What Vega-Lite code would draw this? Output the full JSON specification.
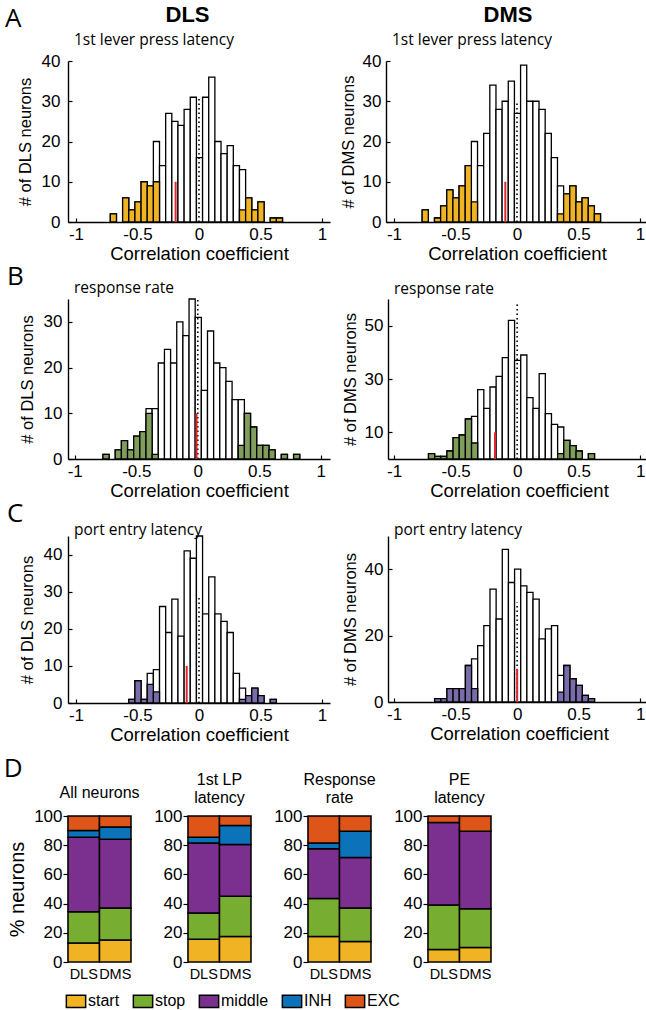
{
  "$schema": "https://vega.github.io/schema/vega-lite/v6.json",
  "padding": {"left": 3, "top": 3, "right": 0, "bottom": 0},
  "background": "white",
  "datasets": {
    "hist": [
      {"p":"AL","lo":-0.725,"hi":-0.675,"n":2,"s":2},{"p":"AL","lo":-0.625,"hi":-0.575,"n":6,"s":6},{"p":"AL","lo":-0.575,"hi":-0.525,"n":3,"s":3},{"p":"AL","lo":-0.525,"hi":-0.475,"n":5,"s":5},{"p":"AL","lo":-0.475,"hi":-0.425,"n":10,"s":10},{"p":"AL","lo":-0.425,"hi":-0.375,"n":9,"s":9},{"p":"AL","lo":-0.375,"hi":-0.325,"n":20,"s":10},{"p":"AL","lo":-0.325,"hi":-0.275,"n":14,"s":0},{"p":"AL","lo":-0.275,"hi":-0.225,"n":27,"s":0},{"p":"AL","lo":-0.225,"hi":-0.175,"n":25,"s":0},{"p":"AL","lo":-0.175,"hi":-0.125,"n":24,"s":0},{"p":"AL","lo":-0.125,"hi":-0.075,"n":28,"s":0},{"p":"AL","lo":-0.075,"hi":-0.025,"n":31,"s":0},{"p":"AL","lo":-0.025,"hi":0.025,"n":16,"s":0},{"p":"AL","lo":0.025,"hi":0.075,"n":31,"s":0},{"p":"AL","lo":0.075,"hi":0.125,"n":36,"s":0},{"p":"AL","lo":0.125,"hi":0.175,"n":20,"s":0},{"p":"AL","lo":0.175,"hi":0.225,"n":17,"s":0},{"p":"AL","lo":0.225,"hi":0.275,"n":19,"s":0},{"p":"AL","lo":0.275,"hi":0.325,"n":14,"s":0},{"p":"AL","lo":0.325,"hi":0.375,"n":13,"s":3},{"p":"AL","lo":0.375,"hi":0.425,"n":6,"s":6},{"p":"AL","lo":0.425,"hi":0.475,"n":3,"s":3},{"p":"AL","lo":0.475,"hi":0.525,"n":5,"s":5},{"p":"AL","lo":0.575,"hi":0.625,"n":1,"s":1},{"p":"AL","lo":0.625,"hi":0.675,"n":1,"s":1},
      {"p":"AM","lo":-0.775,"hi":-0.725,"n":3,"s":3},{"p":"AM","lo":-0.675,"hi":-0.625,"n":1,"s":1},{"p":"AM","lo":-0.625,"hi":-0.575,"n":4,"s":4},{"p":"AM","lo":-0.575,"hi":-0.525,"n":8,"s":8},{"p":"AM","lo":-0.525,"hi":-0.475,"n":6,"s":6},{"p":"AM","lo":-0.475,"hi":-0.425,"n":9,"s":9},{"p":"AM","lo":-0.425,"hi":-0.375,"n":14,"s":14},{"p":"AM","lo":-0.375,"hi":-0.325,"n":20,"s":5},{"p":"AM","lo":-0.325,"hi":-0.275,"n":14,"s":0},{"p":"AM","lo":-0.275,"hi":-0.225,"n":22,"s":0},{"p":"AM","lo":-0.225,"hi":-0.175,"n":34,"s":0},{"p":"AM","lo":-0.175,"hi":-0.125,"n":28,"s":0},{"p":"AM","lo":-0.125,"hi":-0.075,"n":30,"s":0},{"p":"AM","lo":-0.075,"hi":-0.025,"n":35,"s":0},{"p":"AM","lo":-0.025,"hi":0.025,"n":27,"s":0},{"p":"AM","lo":0.025,"hi":0.075,"n":39,"s":0},{"p":"AM","lo":0.075,"hi":0.125,"n":30,"s":0},{"p":"AM","lo":0.125,"hi":0.175,"n":30,"s":0},{"p":"AM","lo":0.175,"hi":0.225,"n":28,"s":0},{"p":"AM","lo":0.225,"hi":0.275,"n":22,"s":0},{"p":"AM","lo":0.275,"hi":0.325,"n":16,"s":0},{"p":"AM","lo":0.325,"hi":0.375,"n":9,"s":2},{"p":"AM","lo":0.375,"hi":0.425,"n":7,"s":7},{"p":"AM","lo":0.425,"hi":0.475,"n":9,"s":9},{"p":"AM","lo":0.475,"hi":0.525,"n":5,"s":5},{"p":"AM","lo":0.525,"hi":0.575,"n":6,"s":6},{"p":"AM","lo":0.575,"hi":0.625,"n":4,"s":4},{"p":"AM","lo":0.625,"hi":0.675,"n":2,"s":2},
      {"p":"BL","lo":-0.775,"hi":-0.725,"n":1,"s":1},{"p":"BL","lo":-0.675,"hi":-0.625,"n":2,"s":2},{"p":"BL","lo":-0.625,"hi":-0.575,"n":4,"s":4},{"p":"BL","lo":-0.575,"hi":-0.525,"n":2,"s":2},{"p":"BL","lo":-0.525,"hi":-0.475,"n":5,"s":5},{"p":"BL","lo":-0.475,"hi":-0.425,"n":6,"s":6},{"p":"BL","lo":-0.425,"hi":-0.375,"n":11,"s":10},{"p":"BL","lo":-0.375,"hi":-0.325,"n":11,"s":1},{"p":"BL","lo":-0.325,"hi":-0.275,"n":21,"s":0},{"p":"BL","lo":-0.275,"hi":-0.225,"n":24,"s":0},{"p":"BL","lo":-0.225,"hi":-0.175,"n":21,"s":0},{"p":"BL","lo":-0.175,"hi":-0.125,"n":30,"s":0},{"p":"BL","lo":-0.125,"hi":-0.075,"n":27,"s":0},{"p":"BL","lo":-0.075,"hi":-0.025,"n":35,"s":0},{"p":"BL","lo":-0.025,"hi":0.025,"n":31,"s":0},{"p":"BL","lo":0.025,"hi":0.075,"n":15,"s":0},{"p":"BL","lo":0.075,"hi":0.125,"n":28,"s":0},{"p":"BL","lo":0.125,"hi":0.175,"n":21,"s":0},{"p":"BL","lo":0.175,"hi":0.225,"n":20,"s":0},{"p":"BL","lo":0.225,"hi":0.275,"n":17,"s":0},{"p":"BL","lo":0.275,"hi":0.325,"n":13,"s":0},{"p":"BL","lo":0.325,"hi":0.375,"n":13,"s":3},{"p":"BL","lo":0.375,"hi":0.425,"n":10,"s":10},{"p":"BL","lo":0.425,"hi":0.475,"n":7,"s":7},{"p":"BL","lo":0.475,"hi":0.525,"n":3,"s":3},{"p":"BL","lo":0.525,"hi":0.575,"n":3,"s":3},{"p":"BL","lo":0.575,"hi":0.625,"n":2,"s":2},{"p":"BL","lo":0.675,"hi":0.725,"n":1,"s":1},{"p":"BL","lo":0.775,"hi":0.825,"n":1,"s":1},
      {"p":"BM","lo":-0.725,"hi":-0.675,"n":2,"s":2},{"p":"BM","lo":-0.675,"hi":-0.625,"n":1,"s":1},{"p":"BM","lo":-0.625,"hi":-0.575,"n":1,"s":1},{"p":"BM","lo":-0.575,"hi":-0.525,"n":3,"s":3},{"p":"BM","lo":-0.525,"hi":-0.475,"n":8,"s":8},{"p":"BM","lo":-0.475,"hi":-0.425,"n":9,"s":9},{"p":"BM","lo":-0.425,"hi":-0.375,"n":15,"s":15},{"p":"BM","lo":-0.375,"hi":-0.325,"n":16,"s":6},{"p":"BM","lo":-0.325,"hi":-0.275,"n":26,"s":0},{"p":"BM","lo":-0.275,"hi":-0.225,"n":19,"s":0},{"p":"BM","lo":-0.225,"hi":-0.175,"n":27,"s":0},{"p":"BM","lo":-0.175,"hi":-0.125,"n":31,"s":0},{"p":"BM","lo":-0.125,"hi":-0.075,"n":38,"s":0},{"p":"BM","lo":-0.075,"hi":-0.025,"n":52,"s":0},{"p":"BM","lo":-0.025,"hi":0.025,"n":37,"s":0},{"p":"BM","lo":0.025,"hi":0.075,"n":39,"s":0},{"p":"BM","lo":0.075,"hi":0.125,"n":23,"s":0},{"p":"BM","lo":0.125,"hi":0.175,"n":19,"s":0},{"p":"BM","lo":0.175,"hi":0.225,"n":32,"s":0},{"p":"BM","lo":0.225,"hi":0.275,"n":17,"s":0},{"p":"BM","lo":0.275,"hi":0.325,"n":13,"s":0},{"p":"BM","lo":0.325,"hi":0.375,"n":12,"s":2},{"p":"BM","lo":0.375,"hi":0.425,"n":7,"s":7},{"p":"BM","lo":0.425,"hi":0.475,"n":5,"s":5},{"p":"BM","lo":0.475,"hi":0.525,"n":3,"s":3},{"p":"BM","lo":0.575,"hi":0.625,"n":2,"s":2},
      {"p":"CL","lo":-0.575,"hi":-0.525,"n":1,"s":1},{"p":"CL","lo":-0.525,"hi":-0.475,"n":6,"s":6},{"p":"CL","lo":-0.475,"hi":-0.425,"n":1,"s":1},{"p":"CL","lo":-0.425,"hi":-0.375,"n":8,"s":5},{"p":"CL","lo":-0.375,"hi":-0.325,"n":9,"s":3},{"p":"CL","lo":-0.325,"hi":-0.275,"n":26,"s":0},{"p":"CL","lo":-0.275,"hi":-0.225,"n":19,"s":0},{"p":"CL","lo":-0.225,"hi":-0.175,"n":28,"s":0},{"p":"CL","lo":-0.175,"hi":-0.125,"n":18,"s":0},{"p":"CL","lo":-0.125,"hi":-0.075,"n":41,"s":0},{"p":"CL","lo":-0.075,"hi":-0.025,"n":39,"s":0},{"p":"CL","lo":-0.025,"hi":0.025,"n":45,"s":0},{"p":"CL","lo":0.025,"hi":0.075,"n":24,"s":0},{"p":"CL","lo":0.075,"hi":0.125,"n":34,"s":0},{"p":"CL","lo":0.125,"hi":0.175,"n":24,"s":0},{"p":"CL","lo":0.175,"hi":0.225,"n":22,"s":0},{"p":"CL","lo":0.225,"hi":0.275,"n":19,"s":0},{"p":"CL","lo":0.275,"hi":0.325,"n":8,"s":0},{"p":"CL","lo":0.325,"hi":0.375,"n":4,"s":1},{"p":"CL","lo":0.375,"hi":0.425,"n":2,"s":2},{"p":"CL","lo":0.425,"hi":0.475,"n":4,"s":4},{"p":"CL","lo":0.475,"hi":0.525,"n":2,"s":2},{"p":"CL","lo":0.575,"hi":0.625,"n":1,"s":1},
      {"p":"CM","lo":-0.675,"hi":-0.625,"n":1,"s":1},{"p":"CM","lo":-0.625,"hi":-0.575,"n":1,"s":1},{"p":"CM","lo":-0.575,"hi":-0.525,"n":4,"s":4},{"p":"CM","lo":-0.525,"hi":-0.475,"n":4,"s":4},{"p":"CM","lo":-0.475,"hi":-0.425,"n":4,"s":4},{"p":"CM","lo":-0.425,"hi":-0.375,"n":11,"s":11},{"p":"CM","lo":-0.375,"hi":-0.325,"n":13,"s":4},{"p":"CM","lo":-0.325,"hi":-0.275,"n":17,"s":0},{"p":"CM","lo":-0.275,"hi":-0.225,"n":23,"s":0},{"p":"CM","lo":-0.225,"hi":-0.175,"n":34,"s":0},{"p":"CM","lo":-0.175,"hi":-0.125,"n":25,"s":0},{"p":"CM","lo":-0.125,"hi":-0.075,"n":46,"s":0},{"p":"CM","lo":-0.075,"hi":-0.025,"n":36,"s":0},{"p":"CM","lo":-0.025,"hi":0.025,"n":40,"s":0},{"p":"CM","lo":0.025,"hi":0.075,"n":35,"s":0},{"p":"CM","lo":0.075,"hi":0.125,"n":33,"s":0},{"p":"CM","lo":0.125,"hi":0.175,"n":31,"s":0},{"p":"CM","lo":0.175,"hi":0.225,"n":19,"s":0},{"p":"CM","lo":0.225,"hi":0.275,"n":22,"s":0},{"p":"CM","lo":0.275,"hi":0.325,"n":23,"s":0},{"p":"CM","lo":0.325,"hi":0.375,"n":8,"s":3},{"p":"CM","lo":0.375,"hi":0.425,"n":11,"s":11},{"p":"CM","lo":0.425,"hi":0.475,"n":7,"s":7},{"p":"CM","lo":0.475,"hi":0.525,"n":5,"s":5},{"p":"CM","lo":0.525,"hi":0.575,"n":2,"s":2},{"p":"CM","lo":0.575,"hi":0.625,"n":1,"s":1}
    ],
    "refs": [
      {"p":"AL","med":-0.19,"mh":10,"zt":31,"z":0},
      {"p":"AM","med":-0.095,"mh":10,"zt":30,"z":0},
      {"p":"BL","med":-0.01,"mh":10,"zt":35,"z":0},
      {"p":"BM","med":-0.18,"mh":10,"zt":59,"z":0},
      {"p":"CL","med":-0.10,"mh":10,"zt":29,"z":0},
      {"p":"CM","med":0.0,"mh":10,"zt":30,"z":0}
    ],
    "stack": [
      {"g":"All","region":"DLS","type":"start","pct":13},{"g":"All","region":"DLS","type":"stop","pct":21.5},{"g":"All","region":"DLS","type":"middle","pct":51},{"g":"All","region":"DLS","type":"INH","pct":4.5},{"g":"All","region":"DLS","type":"EXC","pct":10},
      {"g":"All","region":"DMS","type":"start","pct":15},{"g":"All","region":"DMS","type":"stop","pct":22},{"g":"All","region":"DMS","type":"middle","pct":47},{"g":"All","region":"DMS","type":"INH","pct":8.5},{"g":"All","region":"DMS","type":"EXC","pct":7.5},
      {"g":"LP","region":"DLS","type":"start","pct":15.5},{"g":"LP","region":"DLS","type":"stop","pct":18},{"g":"LP","region":"DLS","type":"middle","pct":48},{"g":"LP","region":"DLS","type":"INH","pct":4},{"g":"LP","region":"DLS","type":"EXC","pct":14.5},
      {"g":"LP","region":"DMS","type":"start","pct":17.5},{"g":"LP","region":"DMS","type":"stop","pct":27.5},{"g":"LP","region":"DMS","type":"middle","pct":35.5},{"g":"LP","region":"DMS","type":"INH","pct":13},{"g":"LP","region":"DMS","type":"EXC","pct":6.5},
      {"g":"RR","region":"DLS","type":"start","pct":17.5},{"g":"RR","region":"DLS","type":"stop","pct":26},{"g":"RR","region":"DLS","type":"middle","pct":34},{"g":"RR","region":"DLS","type":"INH","pct":4},{"g":"RR","region":"DLS","type":"EXC","pct":18.5},
      {"g":"RR","region":"DMS","type":"start","pct":14},{"g":"RR","region":"DMS","type":"stop","pct":23},{"g":"RR","region":"DMS","type":"middle","pct":34.5},{"g":"RR","region":"DMS","type":"INH","pct":18},{"g":"RR","region":"DMS","type":"EXC","pct":10.5},
      {"g":"PE","region":"DLS","type":"start","pct":8.5},{"g":"PE","region":"DLS","type":"stop","pct":30.5},{"g":"PE","region":"DLS","type":"middle","pct":56.5},{"g":"PE","region":"DLS","type":"EXC","pct":4.5},
      {"g":"PE","region":"DMS","type":"start","pct":10},{"g":"PE","region":"DMS","type":"stop","pct":26.5},{"g":"PE","region":"DMS","type":"middle","pct":53},{"g":"PE","region":"DMS","type":"EXC","pct":10.5}
    ]
  },
  "vconcat": [
    {
      "spacing": 0,
      "vconcat": [
        {
          "title": {"text": "A", "anchor": "start", "frame": "bounds", "font": "Open Sans", "fontSize": 26, "fontWeight": "normal", "offset": -28, "dx": -12},
          "spacing": 10,
          "hconcat": [
            {
              "title": {"text": "DLS", "anchor": "middle", "fontSize": 22, "fontWeight": "bold", "offset": 6, "dx": 14},
              "vconcat": [
                {
                  "width": 262, "height": 161,
                  "title": {"text": "1st lever press latency", "anchor": "start", "frame": "group", "font": "Open Sans", "fontSize": 15.5, "fontWeight": "normal", "dx": 6, "offset": 4},
                  "layer": [
                    {"data": {"name": "hist"}, "transform": [{"filter": "datum.p=='AL'"}],
                     "mark": {"type": "bar", "fill": "white", "stroke": "black", "strokeWidth": 1.3, "binSpacing": 0},
                     "encoding": {
                       "x": {"field": "lo", "type": "quantitative", "bin": "binned", "scale": {"domain": [-1.065, 1.065], "nice": false, "zero": false},
                             "axis": {"values": [-1, -0.5, 0, 0.5, 1], "labelExpr": "''+datum.value", "title": "Correlation coefficient", "titleFontSize": 18.5, "labelFontSize": 17, "tickSize": -4, "labelPadding": 8, "titlePadding": 2, "labelFlush": false}},
                       "x2": {"field": "hi"},
                       "y": {"field": "n", "type": "quantitative", "scale": {"domain": [0, 40], "nice": false},
                             "axis": {"values": [0, 10, 20, 30, 40], "title": "# of DLS neurons", "titleFontSize": 16.5, "labelFontSize": 17, "tickSize": -4, "labelPadding": 12, "titlePadding": 8}}}},
                    {"data": {"name": "hist"}, "transform": [{"filter": "datum.p=='AL' && datum.s>0"}],
                     "mark": {"type": "bar", "fill": "#F0B323", "stroke": "black", "strokeWidth": 1.3, "binSpacing": 0},
                     "encoding": {"x": {"field": "lo", "type": "quantitative", "bin": "binned"}, "x2": {"field": "hi"}, "y": {"field": "s", "type": "quantitative"}}},
                    {"data": {"name": "refs"}, "transform": [{"filter": "datum.p=='AL'"}],
                     "mark": {"type": "rule", "stroke": "black", "strokeWidth": 1.6, "strokeDash": [1.5, 3]},
                     "encoding": {"x": {"field": "z", "type": "quantitative"}, "y": {"field": "z", "type": "quantitative"}, "y2": {"field": "zt"}}},
                    {"data": {"name": "refs"}, "transform": [{"filter": "datum.p=='AL'"}],
                     "mark": {"type": "rule", "stroke": "#E3242B", "strokeWidth": 2},
                     "encoding": {"x": {"field": "med", "type": "quantitative"}, "y": {"field": "z", "type": "quantitative"}, "y2": {"field": "mh"}}}
                  ]
                }
              ]
            },
            {
              "title": {"text": "DMS", "anchor": "middle", "fontSize": 22, "fontWeight": "bold", "offset": 6, "dx": 14},
              "vconcat": [
                {
                  "width": 262, "height": 161,
                  "title": {"text": "1st lever press latency", "anchor": "start", "frame": "group", "font": "Open Sans", "fontSize": 15.5, "fontWeight": "normal", "dx": 6, "offset": 4},
                  "layer": [
                    {"data": {"name": "hist"}, "transform": [{"filter": "datum.p=='AM'"}],
                     "mark": {"type": "bar", "fill": "white", "stroke": "black", "strokeWidth": 1.3, "binSpacing": 0},
                     "encoding": {
                       "x": {"field": "lo", "type": "quantitative", "bin": "binned", "scale": {"domain": [-1.065, 1.065], "nice": false, "zero": false},
                             "axis": {"values": [-1, -0.5, 0, 0.5, 1], "labelExpr": "''+datum.value", "title": "Correlation coefficient", "titleFontSize": 18.5, "labelFontSize": 17, "tickSize": -4, "labelPadding": 8, "titlePadding": 2, "labelFlush": false}},
                       "x2": {"field": "hi"},
                       "y": {"field": "n", "type": "quantitative", "scale": {"domain": [0, 40], "nice": false},
                             "axis": {"values": [0, 10, 20, 30, 40], "title": "# of DMS neurons", "titleFontSize": 16.5, "labelFontSize": 17, "tickSize": -4, "labelPadding": 9, "titlePadding": 6}}}},
                    {"data": {"name": "hist"}, "transform": [{"filter": "datum.p=='AM' && datum.s>0"}],
                     "mark": {"type": "bar", "fill": "#F0B323", "stroke": "black", "strokeWidth": 1.3, "binSpacing": 0},
                     "encoding": {"x": {"field": "lo", "type": "quantitative", "bin": "binned"}, "x2": {"field": "hi"}, "y": {"field": "s", "type": "quantitative"}}},
                    {"data": {"name": "refs"}, "transform": [{"filter": "datum.p=='AM'"}],
                     "mark": {"type": "rule", "stroke": "black", "strokeWidth": 1.6, "strokeDash": [1.5, 3]},
                     "encoding": {"x": {"field": "z", "type": "quantitative"}, "y": {"field": "z", "type": "quantitative"}, "y2": {"field": "zt"}}},
                    {"data": {"name": "refs"}, "transform": [{"filter": "datum.p=='AM'"}],
                     "mark": {"type": "rule", "stroke": "#E3242B", "strokeWidth": 2},
                     "encoding": {"x": {"field": "med", "type": "quantitative"}, "y": {"field": "z", "type": "quantitative"}, "y2": {"field": "mh"}}}
                  ]
                }
              ]
            }
          ]
        },
        {
          "title": {"text": "B", "anchor": "start", "frame": "bounds", "font": "Open Sans", "fontSize": 26, "fontWeight": "normal", "offset": -9, "dx": -12},
          "spacing": 58, "bounds": "flush",
          "hconcat": [
            {
              "width": 262, "height": 160,
              "title": {"text": "response rate", "anchor": "start", "frame": "group", "font": "Open Sans", "fontSize": 15.5, "fontWeight": "normal", "dx": 6, "offset": 2},
              "layer": [
                {"data": {"name": "hist"}, "transform": [{"filter": "datum.p=='BL'"}],
                 "mark": {"type": "bar", "fill": "white", "stroke": "black", "strokeWidth": 1.3, "binSpacing": 0},
                 "encoding": {
                   "x": {"field": "lo", "type": "quantitative", "bin": "binned", "scale": {"domain": [-1.055, 1.075], "nice": false, "zero": false},
                         "axis": {"values": [-1, -0.5, 0, 0.5, 1], "labelExpr": "''+datum.value", "title": "Correlation coefficient", "titleFontSize": 18.5, "labelFontSize": 17, "tickSize": -4, "labelPadding": 8, "titlePadding": 2, "labelFlush": false}},
                   "x2": {"field": "hi"},
                   "y": {"field": "n", "type": "quantitative", "scale": {"domain": [0, 35], "nice": false},
                         "axis": {"values": [0, 5, 10, 15, 20, 25, 30, 35], "title": "# of DLS neurons", "titleFontSize": 16.5, "labelFontSize": 17, "tickSize": -4, "labelPadding": 10, "titlePadding": 8}}}},
                {"data": {"name": "hist"}, "transform": [{"filter": "datum.p=='BL' && datum.s>0"}],
                 "mark": {"type": "bar", "fill": "#7F9E5C", "stroke": "black", "strokeWidth": 1.3, "binSpacing": 0},
                 "encoding": {"x": {"field": "lo", "type": "quantitative", "bin": "binned"}, "x2": {"field": "hi"}, "y": {"field": "s", "type": "quantitative"}}},
                {"data": {"name": "refs"}, "transform": [{"filter": "datum.p=='BL'"}],
                 "mark": {"type": "rule", "stroke": "black", "strokeWidth": 1.6, "strokeDash": [1.5, 3]},
                 "encoding": {"x": {"field": "z", "type": "quantitative"}, "y": {"field": "z", "type": "quantitative"}, "y2": {"field": "zt"}}},
                {"data": {"name": "refs"}, "transform": [{"filter": "datum.p=='BL'"}],
                 "mark": {"type": "rule", "stroke": "#E3242B", "strokeWidth": 2},
                 "encoding": {"x": {"field": "med", "type": "quantitative"}, "y": {"field": "z", "type": "quantitative"}, "y2": {"field": "mh"}}}
              ]
            },
            {
              "width": 262, "height": 160,
              "title": {"text": "response rate", "anchor": "start", "frame": "group", "font": "Open Sans", "fontSize": 15.5, "fontWeight": "normal", "dx": 6, "offset": 2},
              "layer": [
                {"data": {"name": "hist"}, "transform": [{"filter": "datum.p=='BM'"}],
                 "mark": {"type": "bar", "fill": "white", "stroke": "black", "strokeWidth": 1.3, "binSpacing": 0},
                 "encoding": {
                   "x": {"field": "lo", "type": "quantitative", "bin": "binned", "scale": {"domain": [-1.05, 1.08], "nice": false, "zero": false},
                         "axis": {"values": [-1, -0.5, 0, 0.5, 1], "labelExpr": "''+datum.value", "title": "Correlation coefficient", "titleFontSize": 18.5, "labelFontSize": 17, "tickSize": -4, "labelPadding": 8, "titlePadding": 2, "labelFlush": false}},
                   "x2": {"field": "hi"},
                   "y": {"field": "n", "type": "quantitative", "scale": {"domain": [0, 60], "nice": false},
                         "axis": {"values": [10, 20, 30, 40, 50, 60], "title": "# of DMS neurons", "titleFontSize": 16.5, "labelFontSize": 17, "tickSize": -4, "labelPadding": 9, "titlePadding": 6}}}},
                {"data": {"name": "hist"}, "transform": [{"filter": "datum.p=='BM' && datum.s>0"}],
                 "mark": {"type": "bar", "fill": "#7F9E5C", "stroke": "black", "strokeWidth": 1.3, "binSpacing": 0},
                 "encoding": {"x": {"field": "lo", "type": "quantitative", "bin": "binned"}, "x2": {"field": "hi"}, "y": {"field": "s", "type": "quantitative"}}},
                {"data": {"name": "refs"}, "transform": [{"filter": "datum.p=='BM'"}],
                 "mark": {"type": "rule", "stroke": "black", "strokeWidth": 1.6, "strokeDash": [1.5, 3]},
                 "encoding": {"x": {"field": "z", "type": "quantitative"}, "y": {"field": "z", "type": "quantitative"}, "y2": {"field": "zt"}}},
                {"data": {"name": "refs"}, "transform": [{"filter": "datum.p=='BM'"}],
                 "mark": {"type": "rule", "stroke": "#E3242B", "strokeWidth": 2},
                 "encoding": {"x": {"field": "med", "type": "quantitative"}, "y": {"field": "z", "type": "quantitative"}, "y2": {"field": "mh"}}}
              ]
            }
          ]
        },
        {
          "title": {"text": "C", "anchor": "start", "frame": "bounds", "font": "Open Sans", "fontSize": 26, "fontWeight": "normal", "offset": -4, "dx": -12},
          "spacing": 58, "bounds": "flush",
          "hconcat": [
            {
              "width": 262, "height": 167,
              "title": {"text": "port entry latency", "anchor": "start", "frame": "group", "font": "Open Sans", "fontSize": 15.5, "fontWeight": "normal", "dx": 6, "offset": -3},
              "layer": [
                {"data": {"name": "hist"}, "transform": [{"filter": "datum.p=='CL'"}],
                 "mark": {"type": "bar", "fill": "white", "stroke": "black", "strokeWidth": 1.3, "binSpacing": 0},
                 "encoding": {
                   "x": {"field": "lo", "type": "quantitative", "bin": "binned", "scale": {"domain": [-1.065, 1.065], "nice": false, "zero": false},
                         "axis": {"values": [-1, -0.5, 0, 0.5, 1], "labelExpr": "''+datum.value", "title": "Correlation coefficient", "titleFontSize": 18.5, "labelFontSize": 17, "tickSize": -4, "labelPadding": 8, "titlePadding": 2, "labelFlush": false}},
                   "x2": {"field": "hi"},
                   "y": {"field": "n", "type": "quantitative", "scale": {"domain": [0, 45], "nice": false},
                         "axis": {"values": [0, 10, 20, 30, 40], "title": "# of DLS neurons", "titleFontSize": 16.5, "labelFontSize": 17, "tickSize": -4, "labelPadding": 10, "titlePadding": 8}}}},
                {"data": {"name": "hist"}, "transform": [{"filter": "datum.p=='CL' && datum.s>0"}],
                 "mark": {"type": "bar", "fill": "#7A6BAA", "stroke": "black", "strokeWidth": 1.3, "binSpacing": 0},
                 "encoding": {"x": {"field": "lo", "type": "quantitative", "bin": "binned"}, "x2": {"field": "hi"}, "y": {"field": "s", "type": "quantitative"}}},
                {"data": {"name": "refs"}, "transform": [{"filter": "datum.p=='CL'"}],
                 "mark": {"type": "rule", "stroke": "black", "strokeWidth": 1.6, "strokeDash": [1.5, 3]},
                 "encoding": {"x": {"field": "z", "type": "quantitative"}, "y": {"field": "z", "type": "quantitative"}, "y2": {"field": "zt"}}},
                {"data": {"name": "refs"}, "transform": [{"filter": "datum.p=='CL'"}],
                 "mark": {"type": "rule", "stroke": "#E3242B", "strokeWidth": 2},
                 "encoding": {"x": {"field": "med", "type": "quantitative"}, "y": {"field": "z", "type": "quantitative"}, "y2": {"field": "mh"}}}
              ]
            },
            {
              "width": 262, "height": 166,
              "title": {"text": "port entry latency", "anchor": "start", "frame": "group", "font": "Open Sans", "fontSize": 15.5, "fontWeight": "normal", "dx": 6, "offset": -2},
              "layer": [
                {"data": {"name": "hist"}, "transform": [{"filter": "datum.p=='CM'"}],
                 "mark": {"type": "bar", "fill": "white", "stroke": "black", "strokeWidth": 1.3, "binSpacing": 0},
                 "encoding": {
                   "x": {"field": "lo", "type": "quantitative", "bin": "binned", "scale": {"domain": [-1.05, 1.08], "nice": false, "zero": false},
                         "axis": {"values": [-1, -0.5, 0, 0.5, 1], "labelExpr": "''+datum.value", "title": "Correlation coefficient", "titleFontSize": 18.5, "labelFontSize": 17, "tickSize": -4, "labelPadding": 8, "titlePadding": 2, "labelFlush": false}},
                   "x2": {"field": "hi"},
                   "y": {"field": "n", "type": "quantitative", "scale": {"domain": [0, 50], "nice": false},
                         "axis": {"values": [0, 10, 20, 30, 40, 50], "title": "# of DMS neurons", "titleFontSize": 16.5, "labelFontSize": 17, "tickSize": -4, "labelPadding": 9, "titlePadding": 6}}}},
                {"data": {"name": "hist"}, "transform": [{"filter": "datum.p=='CM' && datum.s>0"}],
                 "mark": {"type": "bar", "fill": "#7A6BAA", "stroke": "black", "strokeWidth": 1.3, "binSpacing": 0},
                 "encoding": {"x": {"field": "lo", "type": "quantitative", "bin": "binned"}, "x2": {"field": "hi"}, "y": {"field": "s", "type": "quantitative"}}},
                {"data": {"name": "refs"}, "transform": [{"filter": "datum.p=='CM'"}],
                 "mark": {"type": "rule", "stroke": "black", "strokeWidth": 1.6, "strokeDash": [1.5, 3]},
                 "encoding": {"x": {"field": "z", "type": "quantitative"}, "y": {"field": "z", "type": "quantitative"}, "y2": {"field": "zt"}}},
                {"data": {"name": "refs"}, "transform": [{"filter": "datum.p=='CM'"}],
                 "mark": {"type": "rule", "stroke": "#E3242B", "strokeWidth": 2},
                 "encoding": {"x": {"field": "med", "type": "quantitative"}, "y": {"field": "z", "type": "quantitative"}, "y2": {"field": "mh"}}}
              ]
            }
          ]
        }
      ]
    },
    {
      "title": {"text": "D", "anchor": "start", "frame": "bounds", "font": "Open Sans", "fontSize": 26, "fontWeight": "normal", "offset": -10, "dx": -4},
      "spacing": 57, "bounds": "flush",
      "data": {"name": "stack"},
      "transform": [{"calculate": "indexof(['start','stop','middle','INH','EXC'], datum.type)", "as": "k"}],
      "hconcat": [
        {
          "width": 63, "height": 146,
          "title": {"text": "All neurons", "fontSize": 16, "fontWeight": "normal", "offset": 6},
          "transform": [{"filter": "datum.g=='All'"}],
          "mark": {"type": "bar", "stroke": "black", "strokeWidth": 1.5},
          "encoding": {
            "x": {"field": "region", "type": "nominal", "sort": ["DLS", "DMS"], "scale": {"paddingInner": 0, "paddingOuter": 0}, "axis": {"title": null, "labelAngle": 0, "ticks": false, "domain": false, "labelFontSize": 14.5, "labelPadding": 5}},
            "y": {"field": "pct", "type": "quantitative", "stack": "zero", "scale": {"domain": [0, 100], "nice": false}, "axis": {"values": [0, 20, 40, 60, 80, 100], "title": "% neurons", "titleFontSize": 20, "labelFontSize": 17, "tickSize": 5, "labelPadding": 1, "titlePadding": 6}},
            "color": {"field": "type", "type": "nominal", "scale": {"domain": ["start", "stop", "middle", "INH", "EXC"], "range": ["#F0B323", "#77AE31", "#7B2F8E", "#0C72BA", "#DE5519"]}},
            "order": {"field": "k", "type": "quantitative"}
          }
        },
        {
          "width": 63, "height": 146,
          "title": {"text": ["1st LP", "latency"], "fontSize": 16, "fontWeight": "normal", "offset": 1},
          "transform": [{"filter": "datum.g=='LP'"}],
          "mark": {"type": "bar", "stroke": "black", "strokeWidth": 1.5},
          "encoding": {
            "x": {"field": "region", "type": "nominal", "sort": ["DLS", "DMS"], "scale": {"paddingInner": 0, "paddingOuter": 0}, "axis": {"title": null, "labelAngle": 0, "ticks": false, "domain": false, "labelFontSize": 14.5, "labelPadding": 5}},
            "y": {"field": "pct", "type": "quantitative", "stack": "zero", "scale": {"domain": [0, 100], "nice": false}, "axis": {"values": [0, 20, 40, 60, 80, 100], "title": null, "labelFontSize": 17, "tickSize": 5, "labelPadding": 1}},
            "color": {"field": "type", "type": "nominal"},
            "order": {"field": "k", "type": "quantitative"}
          }
        },
        {
          "width": 63, "height": 146,
          "title": {"text": ["Response", "rate"], "fontSize": 16, "fontWeight": "normal", "offset": 1},
          "transform": [{"filter": "datum.g=='RR'"}],
          "mark": {"type": "bar", "stroke": "black", "strokeWidth": 1.5},
          "encoding": {
            "x": {"field": "region", "type": "nominal", "sort": ["DLS", "DMS"], "scale": {"paddingInner": 0, "paddingOuter": 0}, "axis": {"title": null, "labelAngle": 0, "ticks": false, "domain": false, "labelFontSize": 14.5, "labelPadding": 5}},
            "y": {"field": "pct", "type": "quantitative", "stack": "zero", "scale": {"domain": [0, 100], "nice": false}, "axis": {"values": [0, 20, 40, 60, 80, 100], "title": null, "labelFontSize": 17, "tickSize": 5, "labelPadding": 1}},
            "color": {"field": "type", "type": "nominal"},
            "order": {"field": "k", "type": "quantitative"}
          }
        },
        {
          "width": 63, "height": 146,
          "title": {"text": ["PE", "latency"], "fontSize": 16, "fontWeight": "normal", "offset": 1},
          "transform": [{"filter": "datum.g=='PE'"}],
          "mark": {"type": "bar", "stroke": "black", "strokeWidth": 1.5},
          "encoding": {
            "x": {"field": "region", "type": "nominal", "sort": ["DLS", "DMS"], "scale": {"paddingInner": 0, "paddingOuter": 0}, "axis": {"title": null, "labelAngle": 0, "ticks": false, "domain": false, "labelFontSize": 14.5, "labelPadding": 5}},
            "y": {"field": "pct", "type": "quantitative", "stack": "zero", "scale": {"domain": [0, 100], "nice": false}, "axis": {"values": [0, 20, 40, 60, 80, 100], "title": null, "labelFontSize": 17, "tickSize": 5, "labelPadding": 1}},
            "color": {"field": "type", "type": "nominal"},
            "order": {"field": "k", "type": "quantitative"}
          }
        }
      ]
    }
  ],
  "spacing": 12,
  "config": {
    "font": "Liberation Sans",
    "view": {"stroke": null},
    "axis": {"domainColor": "black", "domainWidth": 1.4, "tickColor": "black", "tickWidth": 1.2, "labelColor": "black", "titleColor": "black", "grid": false, "titleFontWeight": "normal", "labelOverlap": false},
    "title": {"color": "black", "fontWeight": "normal"},
    "legend": {"orient": "bottom", "direction": "horizontal", "title": null, "symbolType": "M-1.4,-0.9H1.4V0.9H-1.4Z", "symbolSize": 190, "symbolStrokeColor": "black", "symbolStrokeWidth": 1.5, "symbolOpacity": 1, "labelFontSize": 16, "labelColor": "black", "columnPadding": 10, "labelOffset": 4, "offset": 12}
  }
}
